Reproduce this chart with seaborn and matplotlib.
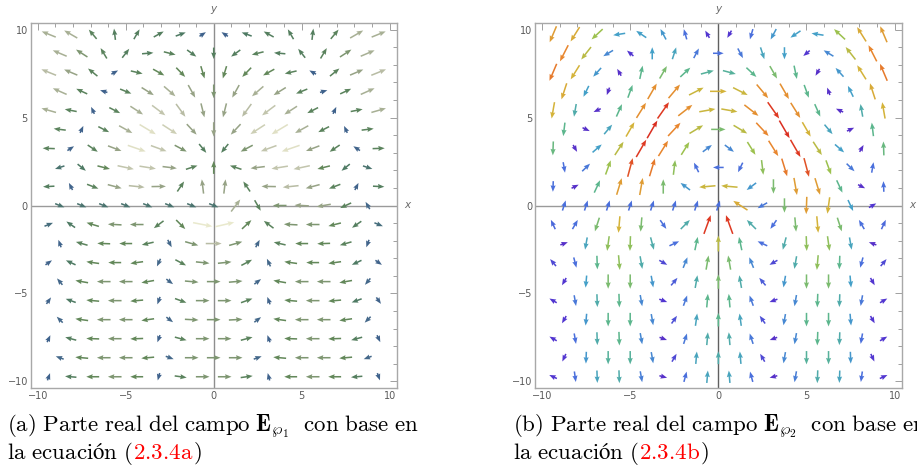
import numpy as np
import matplotlib
matplotlib.use("Agg")
import matplotlib.pyplot as plt
from matplotlib.colors import LinearSegmentedColormap, Normalize
from matplotlib.ticker import MultipleLocator
import seaborn as sns

sns.set_style("white")
plt.rcParams["font.family"] = ["DejaVu Sans"]
plt.rcParams["mathtext.fontset"] = "cm"

# ---------------------------------------------------------------------------
# Field samples on a hexagonal lattice, rows listed from top (y ~ 9.7) to
# bottom (y ~ -9.7).  Rows alternate between 16 and 15 sample points.
# Angles in degrees (0 = +x, 90 = +y); magnitudes normalised to [0, 1].
# ---------------------------------------------------------------------------

# Panel (a): real part of E_p1
ang_a = [
    [158, 150, 130, 97, 60, 29, 20, 33, 147, 160, 151, 120, 83, 50, 30, 22],
    [157, 147, 121, 52, 5, -14, -36, -90, 216, 194, 175, 128, 59, 33, 23],
    [158, 157, 141, 29, -13, -29, -46, -73, 253, 226, 209, 193, 151, 39, 23, 22],
    [156, 155, 163, -22, -32, -41, -61, -90, 241, 221, 212, 202, 17, 25, 24],
    [164, 169, 115, -27, -33, -37, -54, -76, 256, 234, 217, 213, 207, 65, 11, 16],
    [173, 65, -27, -29, -31, -33, -47, -90, 227, 213, 211, 209, 207, 115, 7],
    [178, 33, -34, -21, -19, -20, -28, -51, 231, 208, 200, 199, 201, 214, 147, 2],
    [198, -39, -14, -12, -9, -7, 18, 90, 162, 187, 189, 192, 194, 219, -18],
    [183, 117, -21, -15, -6, 1, 56, 97, 83, 124, 179, 186, 195, 201, 63, -3],
    [-22, -22, -22, -22, -22, -22, -22, -22, 53, -60, 180, 177, 190, 205, 120],
    [22, 145, 163, 177, 180, 217, -45, -11, 13, 43, 143, 177, 180, 194, 215, -22],
    [110, 164, 178, 180, 193, -62, -16, 0, 16, 62, 167, 180, 182, 196, 250],
    [35, 155, 172, 180, 188, 245, -28, -6, 6, 28, 115, 172, 180, 188, 205, -35],
    [130, 170, 180, 180, 190, -37, -5, 0, 5, 37, 170, 180, 180, 190, 230],
    [55, 160, 175, 180, 185, 250, -20, 0, 0, 20, 110, 175, 180, 185, 200, -55],
    [135, 172, 180, 180, 188, -37, -3, 0, 3, 37, 172, 180, 180, 188, 225],
    [65, 165, 178, 180, 182, 250, -15, 0, 0, 15, 110, 178, 180, 182, 195, -65],
    [160, 175, 180, 180, 185, -20, 0, 0, 0, 20, 175, 180, 180, 185, 200],
    [70, 175, 180, 180, 180, 255, -8, 0, 0, 8, 105, 180, 180, 180, 185, -70],
]
mag_a = [
    [0.6, 0.6, 0.4, 0.35, 0.35, 0.35, 0.3, 0.1, 0.1, 0.3, 0.35, 0.35, 0.35, 0.4, 0.6, 0.6],
    [0.6, 0.5, 0.4, 0.35, 0.35, 0.4, 0.35, 0.35, 0.35, 0.4, 0.35, 0.35, 0.4, 0.5, 0.6],
    [0.65, 0.55, 0.4, 0.1, 0.4, 0.45, 0.45, 0.45, 0.45, 0.45, 0.45, 0.4, 0.1, 0.4, 0.55, 0.65],
    [0.6, 0.4, 0.1, 0.4, 0.55, 0.6, 0.55, 0.5, 0.55, 0.6, 0.55, 0.4, 0.1, 0.4, 0.6],
    [0.6, 0.4, 0.1, 0.4, 0.6, 0.7, 0.65, 0.55, 0.55, 0.65, 0.7, 0.6, 0.4, 0.1, 0.4, 0.6],
    [0.4, 0.1, 0.4, 0.6, 0.85, 0.75, 0.55, 0.55, 0.55, 0.75, 0.85, 0.6, 0.4, 0.1, 0.4],
    [0.4, 0.12, 0.4, 0.55, 0.85, 0.7, 0.5, 0.35, 0.35, 0.5, 0.7, 0.85, 0.55, 0.4, 0.12, 0.4],
    [0.25, 0.3, 0.45, 0.7, 0.7, 0.55, 0.4, 0.45, 0.4, 0.55, 0.7, 0.7, 0.45, 0.3, 0.25],
    [0.35, 0.12, 0.4, 0.55, 0.65, 0.55, 0.4, 0.55, 0.55, 0.4, 0.55, 0.65, 0.55, 0.4, 0.12, 0.35],
    [0.25, 0.25, 0.25, 0.25, 0.25, 0.25, 0.25, 0.25, 0.6, 0.4, 0.5, 0.55, 0.55, 0.4, 0.15],
    [0.2, 0.3, 0.45, 0.5, 0.5, 0.4, 0.45, 0.9, 0.9, 0.45, 0.4, 0.5, 0.5, 0.45, 0.35, 0.2],
    [0.12, 0.4, 0.45, 0.45, 0.4, 0.15, 0.5, 0.65, 0.5, 0.15, 0.4, 0.45, 0.45, 0.4, 0.12],
    [0.12, 0.3, 0.45, 0.45, 0.45, 0.15, 0.4, 0.5, 0.5, 0.4, 0.15, 0.45, 0.45, 0.45, 0.3, 0.12],
    [0.15, 0.45, 0.5, 0.5, 0.45, 0.15, 0.5, 0.5, 0.5, 0.15, 0.45, 0.5, 0.5, 0.45, 0.15],
    [0.12, 0.3, 0.45, 0.5, 0.45, 0.12, 0.4, 0.5, 0.5, 0.4, 0.12, 0.45, 0.5, 0.45, 0.3, 0.12],
    [0.15, 0.45, 0.5, 0.5, 0.45, 0.15, 0.5, 0.5, 0.5, 0.15, 0.45, 0.5, 0.5, 0.45, 0.15],
    [0.1, 0.35, 0.45, 0.5, 0.45, 0.1, 0.4, 0.5, 0.5, 0.4, 0.1, 0.45, 0.5, 0.45, 0.35, 0.1],
    [0.15, 0.45, 0.5, 0.5, 0.45, 0.15, 0.5, 0.5, 0.5, 0.15, 0.45, 0.5, 0.5, 0.45, 0.15],
    [0.1, 0.35, 0.45, 0.5, 0.45, 0.1, 0.4, 0.5, 0.5, 0.4, 0.1, 0.45, 0.5, 0.45, 0.35, 0.1],
]

# Panel (b): real part of E_p2
ang_b = [
    [247, 238, 223, 189, 146, 118, 106, 120, 240, 254, 242, 214, 171, 137, 122, 113],
    [243, 232, 211, 140, 90, 72, 62, 0, 298, 288, 270, 220, 149, 128, 117],
    [247, 238, 228, 120, 78, 60, 43, 15, 345, 317, 300, 282, 240, 132, 122, 113],
    [252, 244, 250, 70, 60, 50, 27, 0, 333, 310, 300, 290, 110, 116, 108],
    [260, 260, 205, 66, 58, 55, 38, 10, 350, 322, 305, 302, 294, 155, 100, 100],
    [263, 335, 50, 60, 60, 47, 31, 0, 329, 313, 300, 300, 310, 25, 97],
    [268, 300, 41, 57, 60, 58, 58, 37, 323, 302, 302, 300, 303, 319, 60, 92],
    [280, 44, 70, 75, 73, 83, 116, 180, 244, 277, 287, 285, 290, 316, 80],
    [268, 27, 65, 73, 80, 90, 143, 185, 175, 217, 270, 280, 287, 295, 333, 92],
    [72, 72, 72, 72, 72, 72, 72, 72, 147, 210, 270, 268, 262, 295, 30],
    [115, 60, 252, 265, 265, 305, 45, 70, 110, 135, 235, 275, 275, 288, 120, 65],
    [20, 260, 262, 268, 285, 25, 78, 90, 102, 155, 255, 272, 278, 280, 160],
    [130, 285, 272, 275, 280, 330, 68, 80, 100, 112, 210, 260, 265, 268, 255, 50],
    [240, 265, 270, 270, 280, 50, 80, 90, 100, 130, 260, 270, 270, 275, 300],
    [150, 280, 272, 272, 280, 340, 70, 85, 95, 110, 200, 260, 268, 268, 260, 30],
    [240, 265, 270, 270, 280, 55, 82, 90, 98, 125, 260, 270, 270, 275, 300],
    [150, 280, 272, 272, 280, 340, 72, 85, 95, 108, 200, 260, 268, 268, 260, 30],
    [245, 268, 270, 270, 280, 60, 85, 90, 95, 120, 260, 270, 270, 272, 295],
    [155, 278, 272, 272, 280, 345, 75, 85, 95, 105, 195, 260, 268, 268, 262, 25],
]
mag_b = [
    [0.75, 0.72, 0.6, 0.4, 0.4, 0.38, 0.3, 0.15, 0.15, 0.3, 0.38, 0.4, 0.4, 0.6, 0.72, 0.75],
    [0.8, 0.65, 0.35, 0.15, 0.4, 0.42, 0.32, 0.3, 0.32, 0.42, 0.4, 0.15, 0.35, 0.65, 0.8],
    [0.82, 0.7, 0.38, 0.12, 0.5, 0.55, 0.5, 0.48, 0.48, 0.5, 0.55, 0.5, 0.12, 0.38, 0.7, 0.82],
    [0.72, 0.4, 0.12, 0.5, 0.78, 0.78, 0.68, 0.7, 0.68, 0.78, 0.78, 0.5, 0.12, 0.4, 0.72],
    [0.7, 0.45, 0.12, 0.5, 0.78, 0.92, 0.78, 0.68, 0.68, 0.78, 0.92, 0.78, 0.5, 0.12, 0.45, 0.7],
    [0.5, 0.12, 0.42, 0.7, 0.95, 0.8, 0.65, 0.55, 0.65, 0.8, 0.95, 0.7, 0.42, 0.12, 0.5],
    [0.52, 0.12, 0.4, 0.65, 0.92, 0.8, 0.6, 0.35, 0.35, 0.6, 0.8, 0.92, 0.65, 0.4, 0.12, 0.52],
    [0.3, 0.32, 0.6, 0.88, 0.82, 0.58, 0.3, 0.3, 0.3, 0.58, 0.82, 0.88, 0.6, 0.32, 0.3],
    [0.3, 0.12, 0.5, 0.75, 0.75, 0.55, 0.38, 0.68, 0.68, 0.38, 0.55, 0.75, 0.75, 0.5, 0.12, 0.3],
    [0.3, 0.3, 0.3, 0.3, 0.3, 0.3, 0.3, 0.3, 0.72, 0.32, 0.55, 0.75, 0.7, 0.4, 0.15],
    [0.28, 0.3, 0.55, 0.7, 0.55, 0.3, 0.45, 0.92, 0.92, 0.45, 0.3, 0.55, 0.7, 0.55, 0.3, 0.28],
    [0.12, 0.42, 0.58, 0.58, 0.45, 0.3, 0.5, 0.65, 0.5, 0.3, 0.45, 0.58, 0.58, 0.42, 0.12],
    [0.2, 0.3, 0.5, 0.58, 0.45, 0.2, 0.35, 0.55, 0.55, 0.35, 0.2, 0.45, 0.58, 0.5, 0.3, 0.2],
    [0.15, 0.4, 0.55, 0.55, 0.38, 0.25, 0.45, 0.55, 0.45, 0.25, 0.38, 0.55, 0.55, 0.4, 0.15],
    [0.15, 0.32, 0.45, 0.5, 0.35, 0.15, 0.32, 0.5, 0.5, 0.32, 0.15, 0.35, 0.5, 0.45, 0.32, 0.15],
    [0.15, 0.38, 0.5, 0.5, 0.35, 0.22, 0.42, 0.5, 0.42, 0.22, 0.35, 0.5, 0.5, 0.38, 0.15],
    [0.15, 0.3, 0.45, 0.5, 0.35, 0.12, 0.32, 0.45, 0.45, 0.32, 0.12, 0.35, 0.5, 0.45, 0.3, 0.15],
    [0.15, 0.38, 0.48, 0.48, 0.35, 0.2, 0.42, 0.45, 0.42, 0.2, 0.35, 0.48, 0.48, 0.38, 0.15],
    [0.15, 0.3, 0.42, 0.45, 0.33, 0.12, 0.3, 0.42, 0.42, 0.3, 0.12, 0.33, 0.45, 0.42, 0.3, 0.15],
]

tick_values = [-10, -5, 0, 5, 10]
tick_labels = ["\u221210", "\u22125", "0", "5", "10"]

caption_a = r"$\mathrm{(a)\ Parte\ real\ del\ campo\ }\mathbf{E}_{\wp_1}\mathrm{\ \ con\ base\ en}$"
caption_b = r"$\mathrm{(b)\ Parte\ real\ del\ campo\ }\mathbf{E}_{\wp_2}\mathrm{\ \ con\ base\ en}$"
eq_lead = r"$\mathrm{la\ ecuación\ (}$"
eq_ref_a = "2.3.4a"
eq_ref_b = "2.3.4b"

# ---------------------------------------------------------------------------
# Colour maps (magnitude -> colour)
# ---------------------------------------------------------------------------
cmap_a = LinearSegmentedColormap.from_list("terrain_soft", [
    (0.00, "#365690"), (0.15, "#44688a"), (0.30, "#4e7a62"),
    (0.45, "#62885a"), (0.55, "#98a386"), (0.65, "#b8bca4"),
    (0.80, "#d6d7bd"), (0.90, "#e9e9cd"), (1.00, "#f4f4dc")])
cmap_b = LinearSegmentedColormap.from_list("rainbow_soft", [
    (0.00, "#6a1fb0"), (0.15, "#5236d0"), (0.30, "#4a70dc"),
    (0.40, "#44a0c8"), (0.50, "#5bb68e"), (0.60, "#9cc14e"),
    (0.70, "#d4b43a"), (0.80, "#e8862e"), (0.92, "#de3a22"),
    (1.00, "#d42020")])

SPACING = 1.25
ROW_STEP = SPACING * np.sqrt(3) / 2
row_ids = np.arange(9, -10, -1)


def lattice_vectors(ang_rows, mag_rows):
    xs, ys, us, vs, cs = [], [], [], [], []
    for k, ang, mag in zip(row_ids, ang_rows, mag_rows):
        ang = np.radians(np.asarray(ang, dtype=float))
        mag = np.asarray(mag, dtype=float)
        n = len(ang)
        x = (np.arange(n) - (n - 1) / 2) * SPACING
        length = 0.35 + 0.85 * mag
        xs.append(x)
        ys.append(np.full(n, k * ROW_STEP))
        us.append(length * np.cos(ang))
        vs.append(length * np.sin(ang))
        cs.append(mag)
    return [np.concatenate(a) for a in (xs, ys, us, vs, cs)]


def draw_panel(ax, ang_rows, mag_rows, cmap, vaxis_color):
    lim = 10.4
    ax.set_xlim(-lim, lim)
    ax.set_ylim(-lim, lim)
    ax.axhline(0, color="#9a9a9a", lw=1.0, zorder=1)
    ax.axvline(0, color=vaxis_color, lw=1.0, zorder=1)
    x, y, u, v, c = lattice_vectors(ang_rows, mag_rows)
    ax.quiver(x, y, u, v, c, cmap=cmap, norm=Normalize(0, 1),
              units="xy", angles="xy", scale_units="xy", scale=1,
              pivot="mid", width=0.088, headwidth=3.3, headlength=4.2,
              headaxislength=3.8, minshaft=1.0, zorder=3)
    ax.set_xticks(tick_values)
    ax.set_xticklabels(tick_labels)
    ax.set_yticks(tick_values)
    ax.set_yticklabels(tick_labels)
    ax.xaxis.set_minor_locator(MultipleLocator(1))
    ax.yaxis.set_minor_locator(MultipleLocator(1))
    ax.tick_params(which="both", direction="in", top=True, right=True,
                   labeltop=False, labelright=False, color="#a0a0a0",
                   width=0.7, labelsize=7, labelcolor="#5a5a5a", pad=2)
    ax.tick_params(which="major", length=4.8)
    ax.tick_params(which="minor", length=2.6)
    for sp in ax.spines.values():
        sp.set_color("#a8a8a8")
        sp.set_linewidth(1.0)
    ax.text(0, lim + 0.78, "y", ha="center", va="center", fontsize=7.5,
            style="italic", color="#6a6a6a", clip_on=False)
    ax.text(lim + 0.6, 0, "x", ha="center", va="center", fontsize=7.5,
            style="italic", color="#6a6a6a", clip_on=False)


W, H = 917, 470
fig = plt.figure(figsize=(W / 100, H / 100), dpi=100)
ax_a = fig.add_axes([30.7 / W, (H - 388.3) / H, 366 / W, 365.6 / H])
ax_b = fig.add_axes([535 / W, (H - 388.3) / H, 366.7 / W, 365.6 / H])
draw_panel(ax_a, ang_a, mag_a, cmap_a, "#8e8e8e")
draw_panel(ax_b, ang_b, mag_b, cmap_b, "#606060")

# Captions, laid out piece by piece so the equation reference can be red
CAP_SIZE = 16.5
renderer = fig.canvas.get_renderer()


def caption_line(x_px, base_px, pieces):
    x = x_px
    for text, color in pieces:
        t = fig.text(x / W, 1 - base_px / H, text, fontsize=CAP_SIZE,
                     color=color, ha="left", va="baseline")
        bb = t.get_window_extent(renderer=renderer)
        x += bb.width


for x0, first, ref in [(7, caption_a, eq_ref_a), (513, caption_b, eq_ref_b)]:
    caption_line(x0, 432, [(first, "black")])
    caption_line(x0, 459, [(eq_lead, "black"),
                           (r"$\mathrm{" + ref + "}$", "#ff0000"),
                           (r"$\mathrm{)}$", "black")])

fig.savefig("out.png", dpi=100)
